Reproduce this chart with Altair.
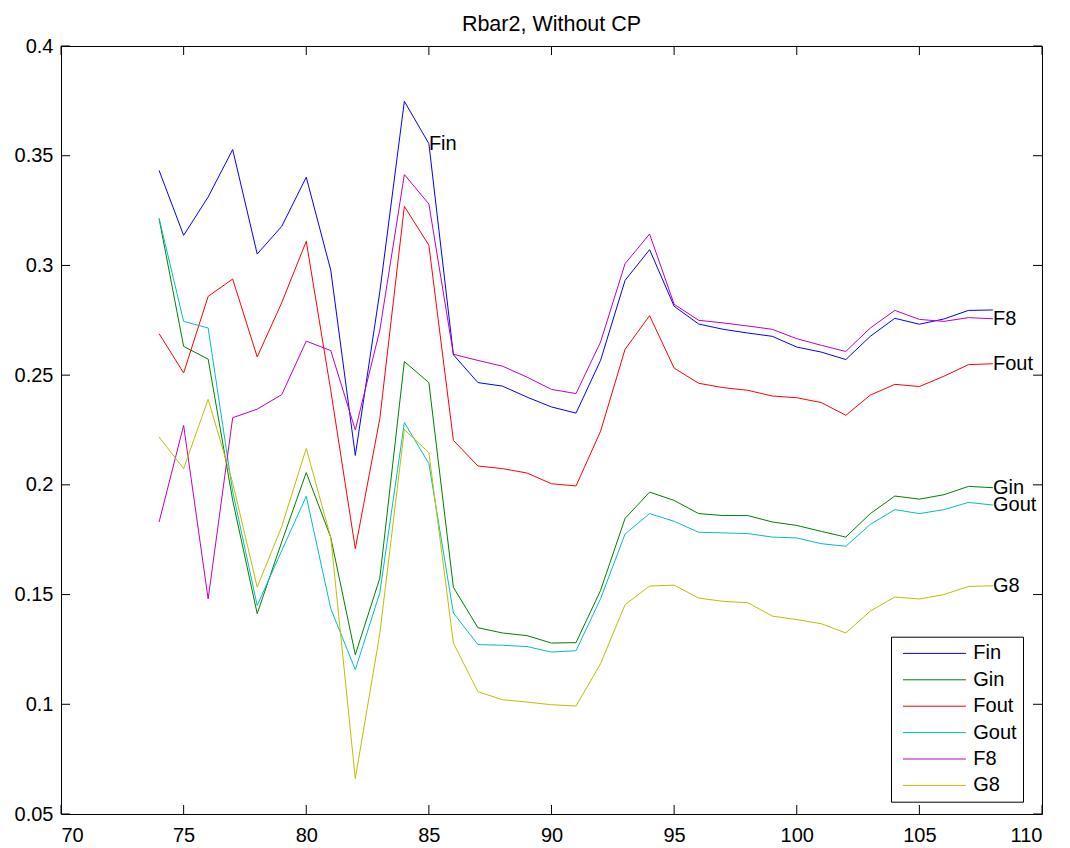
import altair as alt
import pandas as pd

years = [74, 75, 76, 77, 78, 79, 80, 81, 82, 83, 84, 85, 86, 87, 88, 89, 90, 91,
         92, 93, 94, 95, 96, 97, 98, 99, 100, 101, 102, 103, 104, 105, 106, 107, 108]

Fin = [0.3433, 0.3137, 0.3312, 0.3528, 0.3052, 0.3178, 0.3402, 0.2978, 0.2134, 0.2880,
       0.3748, 0.3555, 0.2593, 0.2466, 0.2450, 0.2400, 0.2355, 0.2327, 0.2567, 0.2932,
       0.3072, 0.2814, 0.2733, 0.2709, 0.2692, 0.2677, 0.2628, 0.2605, 0.2571, 0.2677,
       0.2759, 0.2732, 0.2756, 0.2795, 0.2797]
Gin = [0.3213, 0.2631, 0.2573, 0.1930, 0.1413, 0.1740, 0.2056, 0.1760, 0.1226, 0.1575,
       0.2562, 0.2466, 0.1533, 0.1349, 0.1325, 0.1313, 0.1279, 0.1281, 0.1519, 0.1847,
       0.1967, 0.1929, 0.1869, 0.1860, 0.1860, 0.1831, 0.1815, 0.1788, 0.1762, 0.1869,
       0.1949, 0.1935, 0.1955, 0.1993, 0.1987]
Fout = [0.2689, 0.2510, 0.2859, 0.2938, 0.2583, 0.2830, 0.3110, 0.2430, 0.1709, 0.2302,
        0.3269, 0.3092, 0.2203, 0.2086, 0.2074, 0.2054, 0.2005, 0.1995, 0.2244, 0.2618,
        0.2771, 0.2532, 0.2463, 0.2443, 0.2431, 0.2405, 0.2397, 0.2375, 0.2317, 0.2409,
        0.2458, 0.2448, 0.2495, 0.2548, 0.2552]
Gout = [0.3215, 0.2745, 0.2715, 0.1970, 0.1450, 0.1700, 0.1948, 0.1436, 0.1158, 0.1508,
        0.2284, 0.2097, 0.1416, 0.1272, 0.1269, 0.1263, 0.1238, 0.1244, 0.1481, 0.1776,
        0.1869, 0.1834, 0.1784, 0.1781, 0.1778, 0.1762, 0.1758, 0.1732, 0.1720, 0.1820,
        0.1887, 0.1869, 0.1887, 0.1920, 0.1908]
F8 = [0.1831, 0.2271, 0.1480, 0.2306, 0.2345, 0.2411, 0.2655, 0.2612, 0.2250, 0.2705,
      0.3414, 0.3280, 0.2595, 0.2567, 0.2541, 0.2491, 0.2435, 0.2416, 0.2651, 0.3008,
      0.3143, 0.2823, 0.2750, 0.2738, 0.2724, 0.2709, 0.2666, 0.2636, 0.2608, 0.2715,
      0.2795, 0.2754, 0.2745, 0.2762, 0.2757]
G8 = [0.2218, 0.2074, 0.2390, 0.2010, 0.1534, 0.1810, 0.2166, 0.1760, 0.0661, 0.1322,
      0.2252, 0.2147, 0.1279, 0.1057, 0.1021, 0.1010, 0.0998, 0.0992, 0.1185, 0.1454,
      0.1539, 0.1543, 0.1484, 0.1469, 0.1463, 0.1402, 0.1386, 0.1367, 0.1325, 0.1425,
      0.1489, 0.1480, 0.1500, 0.1537, 0.1540]

series_names = ["Fin", "Gin", "Fout", "Gout", "F8", "G8"]
series_colors = ["#0000ff", "#008000", "#ff0000", "#00bfbf", "#bf00bf", "#bfbf00"]

label_names = ["Fin", "F8", "Fout", "Gin", "Gout", "G8"]
label_years = [85, 108, 108, 108, 108, 108]

x_ticks = [70, 75, 80, 85, 90, 95, 100, 105, 110]
y_ticks = [0.05, 0.1, 0.15, 0.2, 0.25, 0.3, 0.35, 0.4]

title_text = "Rbar2, Without CP"
FONT = "Liberation Sans"

series_values = dict(zip(series_names, [Fin, Gin, Fout, Gout, F8, G8]))
rows = []
for name in series_names:
    for yr, v in zip(years, series_values[name]):
        rows.append({"series": name, "year": yr, "value": v})
df = pd.DataFrame(rows)

lab_df = pd.DataFrame({
    "series": label_names,
    "year": label_years,
    "value": [series_values[n][years.index(y)] for n, y in zip(label_names, label_years)],
})
xt_df = pd.DataFrame({"t": x_ticks})
yt_df = pd.DataFrame({"t": y_ticks})

W, H = 981, 768
TICK = 9
xs = alt.Scale(domain=[70, 110], nice=False, zero=False)
ys = alt.Scale(domain=[0.05, 0.4], nice=False, zero=False)
axis_style = dict(title=None, ticks=False, tickSize=0, domain=False, grid=False,
                  labelFont=FONT, labelFontSize=20, labelColor="black")
x_axis = alt.Axis(values=x_ticks, format="d", labelPadding=11, **axis_style)
y_axis = alt.Axis(values=y_ticks, format=".2~f", labelPadding=8, **axis_style)

lines = alt.Chart(df).mark_line(strokeWidth=1).encode(
    x=alt.X("year:Q", scale=xs, axis=x_axis, title=None),
    y=alt.Y("value:Q", scale=ys, axis=y_axis, title=None),
    color=alt.Color(
        "series:N",
        scale=alt.Scale(domain=series_names, range=series_colors),
        legend=alt.Legend(
            orient="none", legendX=830, legendY=590.7, title=None,
            fillColor="white", strokeColor="black",
            padding=5.7, symbolType="M-0.45,0H5.55", symbolSize=441,
            symbolStrokeWidth=1, symbolOffset=0, labelOffset=54.6,
            rowPadding=5.4, labelFontSize=20, labelFont=FONT, labelColor="black",
        ),
    ),
)

texts = alt.Chart(lab_df).mark_text(
    align="left", baseline="middle", fontSize=20, font=FONT, color="black"
).encode(
    x=alt.X("year:Q", scale=xs, axis=x_axis, title=None),
    y=alt.Y("value:Q", scale=ys, axis=y_axis, title=None),
    text="series:N",
)

tick_bottom = alt.Chart(xt_df).mark_rule(color="black", strokeWidth=1).encode(
    x=alt.X("t:Q", scale=xs, axis=x_axis, title=None), y=alt.value(H), y2=alt.value(H - TICK))
tick_top = alt.Chart(xt_df).mark_rule(color="black", strokeWidth=1).encode(
    x=alt.X("t:Q", scale=xs, axis=x_axis, title=None), y=alt.value(0), y2=alt.value(TICK))
tick_left = alt.Chart(yt_df).mark_rule(color="black", strokeWidth=1).encode(
    y=alt.Y("t:Q", scale=ys, axis=y_axis, title=None), x=alt.value(0), x2=alt.value(TICK))
tick_right = alt.Chart(yt_df).mark_rule(color="black", strokeWidth=1).encode(
    y=alt.Y("t:Q", scale=ys, axis=y_axis, title=None), x=alt.value(W), x2=alt.value(W - TICK))

chart = alt.layer(lines, texts, tick_bottom, tick_top, tick_left, tick_right).properties(
    width=W, height=H,
    title=alt.TitleParams(title_text, fontSize=21.5, fontWeight="normal", font=FONT,
                          color="black", offset=1, anchor="middle", frame="group"),
    autosize=alt.AutoSizeParams(type="none"),
    padding={"left": 53, "top": 38, "right": 20, "bottom": 36},
    background="white",
).configure_view(
    stroke="black", strokeWidth=1,
).configure_legend(
    strokeWidth=1,
)

chart.save("out.html", embed_options={"renderer": "svg", "actions": False})
